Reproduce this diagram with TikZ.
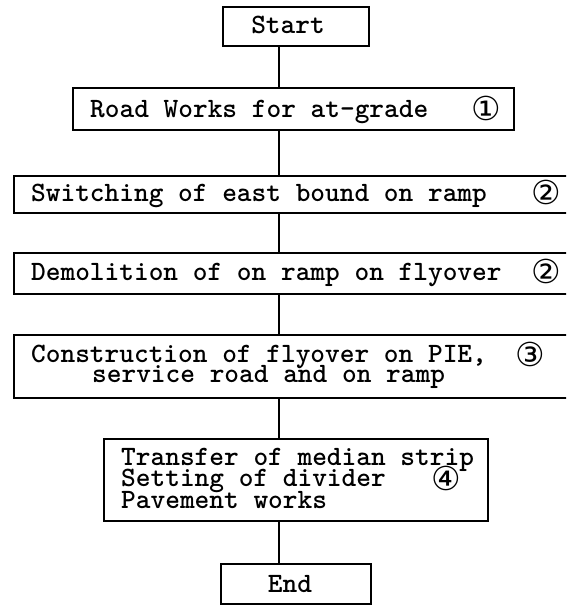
\documentclass[tikz,border=0pt]{standalone}
\usepackage{fontspec}
\newfontfamily\circfont{DejaVu Sans}
\newcommand\mytight{\lineskiplimit=-50pt\relax\lineskip=0pt\relax}
\begin{document}
\begin{tikzpicture}[x=1pt,y=-1pt,
  box/.style={draw, line width=1.8pt, inner sep=0pt, anchor=north west},
  txt/.style={font=\fontsize{28}{20}\selectfont\ttfamily\bfseries, anchor=base west, inner sep=0pt},
  mtxt/.style={align=left, anchor=north west, inner sep=0pt},
  ctxt/.style={font=\fontsize{28}{20}\selectfont\ttfamily\bfseries, anchor=base, inner sep=0pt},
  num/.style={font=\fontsize{33}{33}\selectfont\circfont, inner sep=0pt},
  conn/.style={line width=1.8pt}]
\useasboundingbox (0,0) rectangle (566,606);
\clip (0,0) rectangle (566,606);
\fill[white] (0,0) rectangle (566,606);
% boxes
\node[box, minimum width=146pt, minimum height=39pt] (start) at (222,6) {};
\node[box, minimum width=441pt, minimum height=42pt] (road) at (72,87) {};
\node[box, minimum width=570pt, minimum height=37pt] (sw) at (13,175) {};
\node[box, minimum width=570pt, minimum height=41pt] (demo) at (13,252) {};
\node[box, minimum width=570pt, minimum height=63pt] (cons) at (13,334) {};
\node[box, minimum width=384pt, minimum height=82pt] (trans) at (103,438) {};
\node[box, minimum width=150pt, minimum height=40pt] (endb) at (220,563) {};
% texts
\node[ctxt] (tstart) at (288,33) {Start};
\node[txt] (troad) at (90,117) {Road Works for at-grade};
\node[num] (n1) at (486,108.5) {①};
\node[txt] (tsw) at (31,201) {Switching of east bound on ramp};
\node[num] (n2a) at (546,192.5) {②};
\node[txt] (tdemo) at (31,280) {Demolition of on ramp on flyover};
\node[num] (n2b) at (546,271.5) {②};
\node[mtxt, font=\fontsize{28}{19.5}\selectfont\ttfamily\bfseries\mytight] (tcons) at (31,345) {Construction of flyover on PIE,\\\hspace*{61pt}service road and on ramp};
\node[num] (n3) at (530,354) {③};
\node[mtxt, font=\fontsize{28}{21.5}\selectfont\ttfamily\bfseries\mytight] (ttr) at (121,448) {Transfer of median strip\\Setting of divider\\Pavement works};
\node[num] (n4) at (446,478) {④};
\node[ctxt] (tend) at (290,592) {End};
% connectors
\coordinate (ln) at (279,0);
\draw[conn] (start.south -| ln) -- (road.north -| ln);
\draw[conn] (road.south -| ln) -- (sw.north -| ln);
\draw[conn] (sw.south -| ln) -- (demo.north -| ln);
\draw[conn] (demo.south -| ln) -- (cons.north -| ln);
\draw[conn] (cons.south -| ln) -- (trans.north -| ln);
\draw[conn] (trans.south -| ln) -- (endb.north -| ln);
\end{tikzpicture}
\end{document}
